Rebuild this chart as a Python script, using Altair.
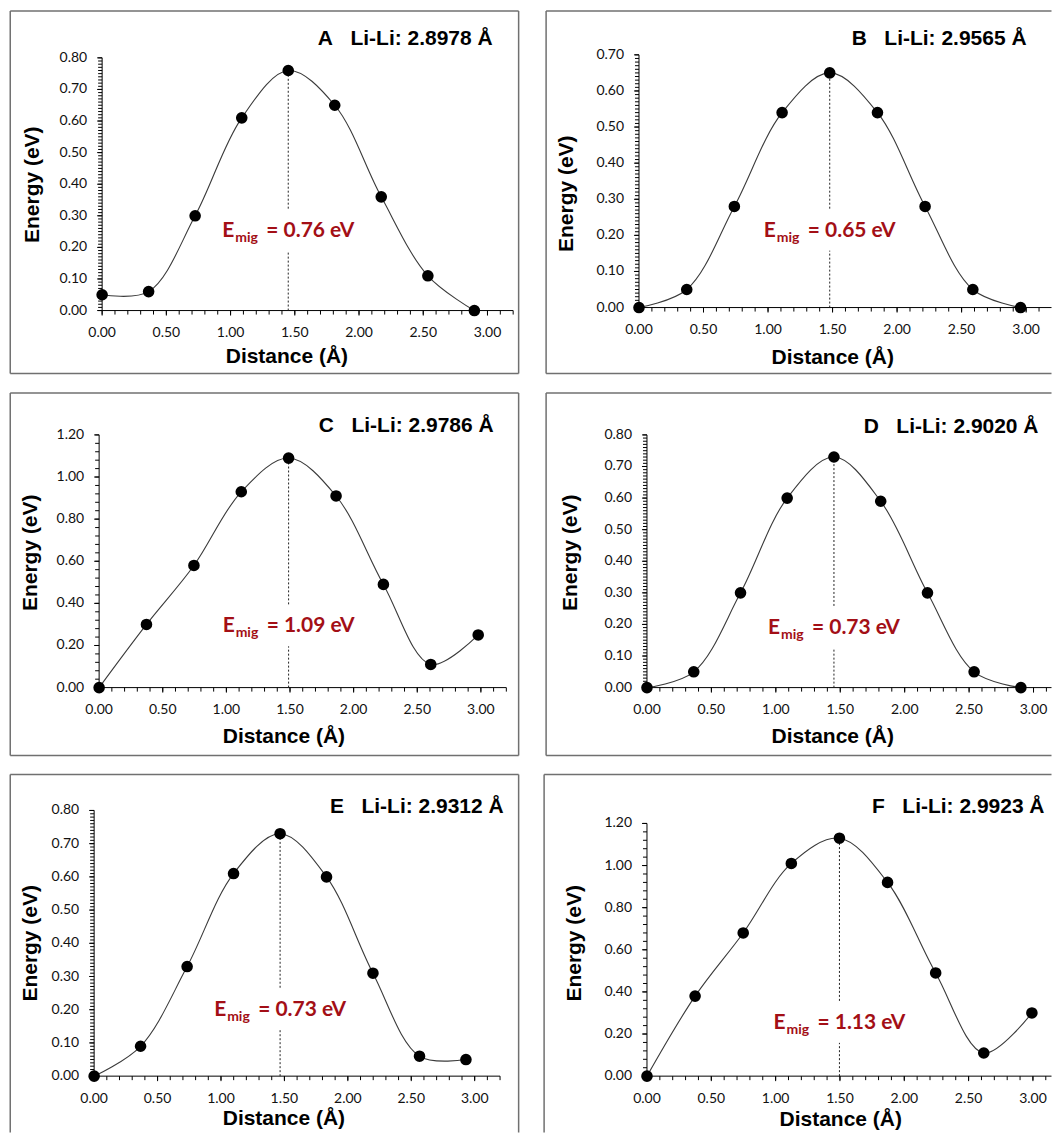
import altair as alt
import pandas as pd

# ---------------- data ----------------
panel_letter = ["A", "B", "C", "D", "E", "F"]
li_li = ["2.8978", "2.9565", "2.9786", "2.9020", "2.9312", "2.9923"]
e_mig = ["0.76", "0.65", "1.09", "0.73", "0.73", "1.13"]

distance_A = [0.000, 0.362, 0.724, 1.087, 1.449, 1.811, 2.173, 2.536, 2.898]
energy_A = [0.05, 0.06, 0.30, 0.61, 0.76, 0.65, 0.36, 0.11, 0.00]
distance_B = [0.000, 0.370, 0.739, 1.109, 1.478, 1.848, 2.217, 2.587, 2.957]
energy_B = [0.00, 0.05, 0.28, 0.54, 0.65, 0.54, 0.28, 0.05, 0.00]
distance_C = [0.000, 0.372, 0.745, 1.117, 1.489, 1.862, 2.234, 2.606, 2.979]
energy_C = [0.00, 0.30, 0.58, 0.93, 1.09, 0.91, 0.49, 0.11, 0.25]
distance_D = [0.000, 0.363, 0.726, 1.088, 1.451, 1.814, 2.177, 2.539, 2.902]
energy_D = [0.00, 0.05, 0.30, 0.60, 0.73, 0.59, 0.30, 0.05, 0.00]
distance_E = [0.000, 0.366, 0.733, 1.099, 1.466, 1.832, 2.198, 2.565, 2.931]
energy_E = [0.00, 0.09, 0.33, 0.61, 0.73, 0.60, 0.31, 0.06, 0.05]
distance_F = [0.000, 0.374, 0.748, 1.122, 1.496, 1.870, 2.244, 2.618, 2.992]
energy_F = [0.00, 0.38, 0.68, 1.01, 1.13, 0.92, 0.49, 0.11, 0.30]

distances = [distance_A, distance_B, distance_C, distance_D, distance_E, distance_F]
energies = [energy_A, energy_B, energy_C, energy_D, energy_E, energy_F]

x_tick_values = [0.0, 0.5, 1.0, 1.5, 2.0, 2.5, 3.0]
x_tick_labels = ["0.00", "0.50", "1.00", "1.50", "2.00", "2.50", "3.00"]
y_ticks_08 = [0.0, 0.1, 0.2, 0.3, 0.4, 0.5, 0.6, 0.7, 0.8]
y_labels_08 = ["0.00", "0.10", "0.20", "0.30", "0.40", "0.50", "0.60", "0.70", "0.80"]
y_ticks_07 = [0.0, 0.1, 0.2, 0.3, 0.4, 0.5, 0.6, 0.7]
y_labels_07 = ["0.00", "0.10", "0.20", "0.30", "0.40", "0.50", "0.60", "0.70"]
y_ticks_12 = [0.0, 0.2, 0.4, 0.6, 0.8, 1.0, 1.2]
y_labels_12 = ["0.00", "0.20", "0.40", "0.60", "0.80", "1.00", "1.20"]
y_ticks = [y_ticks_08, y_ticks_07, y_ticks_12, y_ticks_08, y_ticks_08, y_ticks_12]
y_labels = [y_labels_08, y_labels_07, y_labels_12, y_labels_08, y_labels_08, y_labels_12]
y_minor_step = [0.01, 0.01, 0.04, 0.01, 0.01, 0.04]
x_minor_step = 0.1

x_title = "Distance (Å)"
y_title = "Energy (eV)"

# height (in energy units) at which the E_mig annotation sits
label_energy = [0.253, 0.213, 0.291, 0.189, 0.200, 0.253]
peak_index = 4

# ---------------- layout (page pixels) ----------------
SW = 1.5
GEO = [
    dict(box=(10, 10, 519, 373), origin=(102, 57), unit=128.6, xmax=3.2, ph=253,
         ytitle=(33, 184), xtitle=(287, 357), title=(493, 38), right=True, bottom=True),
    dict(box=(546, 10, 1052, 373), origin=(639, 54), unit=129.2, xmax=None, ph=253,
         ytitle=(567, 193), xtitle=(833, 358), title=(1027, 38), right=False, bottom=True),
    dict(box=(10, 392, 519, 755), origin=(99, 434), unit=127.4, xmax=3.2, ph=253,
         ytitle=(31, 552), xtitle=(284, 736), title=(494, 425), right=True, bottom=True),
    dict(box=(546, 392, 1052, 755), origin=(647, 434), unit=129.0, xmax=None, ph=253,
         ytitle=(571, 552), xtitle=(833, 736), title=(1039, 426), right=False, bottom=True),
    dict(box=(10, 773, 519, 1131.5), origin=(94, 809), unit=127.0, xmax=3.2, ph=266,
         ytitle=(31, 942), xtitle=(284, 1118), title=(504, 806), right=True, bottom=False),
    dict(box=(544, 773, 1052, 1131.5), origin=(647, 822), unit=128.8, xmax=None, ph=253,
         ytitle=(575, 942), xtitle=(841, 1119), title=(1045, 806), right=False, bottom=False),
]

RED = "#A30F16"
BOX = "#707070"
TICK_FONT = "Lato"
BOLD_FONT = "Liberation Sans"
MAJOR_TICK = 5
MINOR_TICK = 4


def make_panel(i):
    g = GEO[i]
    ox, oy = g["origin"]
    bx0, by0, bx1, by1 = g["box"]
    W, H = bx1 - bx0, by1 - by0
    unit = g["unit"]
    if g["xmax"] is None:
        pw = bx1 - ox
        xmax = pw / unit
    else:
        xmax = g["xmax"]
        pw = xmax * unit
    ph = g["ph"]
    ymax = y_ticks[i][-1]
    xL = ox - bx0
    xR = xL + pw
    yT = oy - by0
    yB = yT + ph

    df = pd.DataFrame({"d": distances[i], "e": energies[i]})
    xs = alt.Scale(domain=[0, xmax], range=[xL, xR], nice=False, zero=False)
    ys = alt.Scale(domain=[0, ymax], range=[yB, yT], nice=False, zero=False)

    def X(field):
        return alt.X(field, scale=xs, axis=None)

    def Y(field):
        return alt.Y(field, scale=ys, axis=None)

    x_minor = [round(k * x_minor_step, 2) for k in range(0, 40) if k * x_minor_step <= xmax + 1e-9]
    nstep = int(round(ymax / y_minor_step[i]))
    y_minor = [round(k * y_minor_step[i], 3) for k in range(nstep + 1)]

    one = alt.Chart(pd.DataFrame({"k": [0]}))

    # ---- frame ----
    frame = [
        one.mark_rule(color=BOX, strokeWidth=SW).encode(
            x=alt.value(0), y=alt.value(0), y2=alt.value(H)),
        one.mark_rule(color=BOX, strokeWidth=SW).encode(
            x=alt.value(0), x2=alt.value(W), y=alt.value(0)),
    ]
    if g["right"]:
        frame.append(one.mark_rule(color=BOX, strokeWidth=SW).encode(
            x=alt.value(W), y=alt.value(0), y2=alt.value(H)))
    if g["bottom"]:
        frame.append(one.mark_rule(color=BOX, strokeWidth=SW).encode(
            x=alt.value(0), x2=alt.value(W), y=alt.value(H)))

    # ---- axis lines, ticks, tick labels, titles ----
    x_line = one.mark_rule(color="#000000", strokeWidth=1).encode(
        x=alt.value(xL), x2=alt.value(xR), y=alt.value(yB))
    y_line = one.mark_rule(color="#000000", strokeWidth=1).encode(
        x=alt.value(xL), y=alt.value(yT), y2=alt.value(yB))

    xticks_minor = alt.Chart(pd.DataFrame({"v": x_minor})).mark_rule(
        color="#000000", strokeWidth=1).encode(
        x=alt.X("v:Q", scale=xs, axis=None), y=alt.value(yB), y2=alt.value(yB + MINOR_TICK))
    xticks_major = alt.Chart(pd.DataFrame({"v": x_tick_values})).mark_rule(
        color="#000000", strokeWidth=1).encode(
        x=alt.X("v:Q", scale=xs, axis=None), y=alt.value(yB), y2=alt.value(yB + MAJOR_TICK))
    yticks_minor = alt.Chart(pd.DataFrame({"w": y_minor})).mark_rule(
        color="#000000", strokeWidth=1).encode(
        y=alt.Y("w:Q", scale=ys, axis=None), x=alt.value(xL - MINOR_TICK), x2=alt.value(xL))
    yticks_major = alt.Chart(pd.DataFrame({"w": y_ticks[i]})).mark_rule(
        color="#000000", strokeWidth=1).encode(
        y=alt.Y("w:Q", scale=ys, axis=None), x=alt.value(xL - MAJOR_TICK), x2=alt.value(xL))

    xlab = alt.Chart(pd.DataFrame({"v": x_tick_values, "lab": x_tick_labels})).mark_text(
        align="center", baseline="middle", font=TICK_FONT, fontSize=14, color="#111111").encode(
        x=alt.X("v:Q", scale=xs, axis=None), y=alt.value(yB + 22.5), text="lab:N")
    ylab = alt.Chart(pd.DataFrame({"w": y_ticks[i], "lab": y_labels[i]})).mark_text(
        align="right", baseline="middle", font=TICK_FONT, fontSize=14, color="#111111").encode(
        y=alt.Y("w:Q", scale=ys, axis=None), x=alt.value(xL - 15), text="lab:N")

    xtx, xty = g["xtitle"]
    ytx, yty = g["ytitle"]
    xtitle = one.mark_text(text=x_title, align="center", baseline="middle", font=BOLD_FONT,
                           fontSize=21, fontWeight="bold", color="#000000").encode(
        x=alt.value(xtx - bx0), y=alt.value(xty - by0))
    ytitle = one.mark_text(text=y_title, align="center", baseline="middle", angle=270,
                           font=BOLD_FONT, fontSize=21, fontWeight="bold", color="#000000").encode(
        x=alt.value(ytx - bx0), y=alt.value(yty - by0))

    # ---- data ----
    base = alt.Chart(df)
    line = base.mark_line(interpolate="catmull-rom", color="#3a3a3a", strokeWidth=1.1).encode(
        x=X("d:Q"), y=Y("e:Q"))
    pts = base.mark_circle(size=135, color="#000000", opacity=1).encode(
        x=X("d:Q"), y=Y("e:Q"))

    # dashed marker at the barrier top, interrupted behind the annotation
    px_peak = distances[i][peak_index]
    e_peak = energies[i][peak_index]
    ly = label_energy[i]
    gap_lo = ly - 20 * ymax / ph
    gap_hi = ly + 22 * ymax / ph
    dash_df = pd.DataFrame({"d": [px_peak, px_peak], "e": [0.0, gap_hi], "e2": [gap_lo, e_peak]})
    dash = alt.Chart(dash_df).mark_rule(color="#222222", strokeWidth=1, strokeDash=[2, 2]).encode(
        x=X("d:Q"), y=Y("e:Q"), y2="e2:Q")

    lab_df = pd.DataFrame({"d": [px_peak], "e": [ly]})
    lab_base = alt.Chart(lab_df)
    enc = dict(x=X("d:Q"), y=Y("e:Q"))
    t_E = lab_base.mark_text(text="E", align="left", baseline="middle", dx=-66,
                             font=TICK_FONT, fontSize=21, fontWeight="bold", color=RED).encode(**enc)
    t_sub = lab_base.mark_text(text="mig", align="left", baseline="middle", dx=-53, dy=7,
                               font=TICK_FONT, fontSize=14, fontWeight="bold", color=RED).encode(**enc)
    t_val = lab_base.mark_text(text="= " + e_mig[i] + " eV", align="left", baseline="middle", dx=-22,
                               font=TICK_FONT, fontSize=21, fontWeight="bold", color=RED).encode(**enc)

    tx, ty = g["title"]
    title = one.mark_text(
        text=panel_letter[i] + "\u00a0\u00a0\u00a0Li-Li: " + li_li[i] + " Å",
        align="right", baseline="middle", font=BOLD_FONT, fontSize=21,
        fontWeight="bold", color="#000000").encode(x=alt.value(tx - bx0), y=alt.value(ty - by0))

    layers = frame + [x_line, y_line, xticks_minor, xticks_major, yticks_minor, yticks_major,
                      xlab, ylab, xtitle, ytitle,
                      dash, line, pts, t_E, t_sub, t_val, title]
    return alt.layer(*layers).properties(width=W, height=H)


panels = [make_panel(i) for i in range(6)]
row1 = alt.hconcat(panels[0], panels[1], spacing=546 - 519 - SW)
row2 = alt.hconcat(panels[2], panels[3], spacing=546 - 519 - SW)
row3 = alt.hconcat(panels[4], panels[5], spacing=544 - 519 - SW)

top_two = alt.vconcat(row1, row2, spacing=392 - 373 - SW)
chart = alt.vconcat(top_two, row3, spacing=773 - 755 - SW).properties(
    padding={"left": 10 - SW / 2, "top": 10 - SW / 2, "right": 0, "bottom": 0},
    background="white",
).configure_view(stroke=None)

chart.save("out.html", embed_options={"renderer": "svg", "actions": False})
